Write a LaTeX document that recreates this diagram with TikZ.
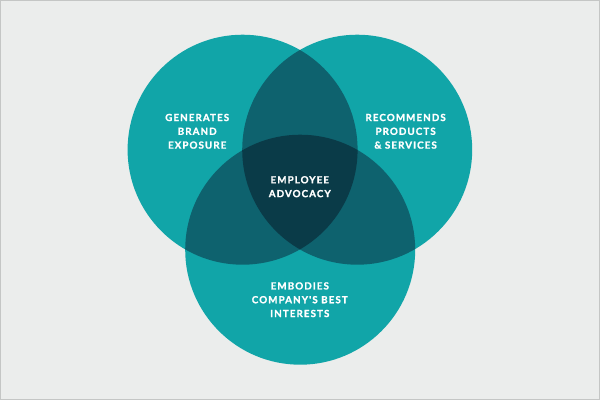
\documentclass[tikz,border=0pt]{standalone}
\usepackage{fontspec}
\newfontfamily\lbl[LetterSpace=11,BoldFeatures={FakeBold=1.3}]{Lato}
\definecolor{bgc}{RGB}{235,237,236}
\definecolor{framec}{RGB}{196,198,197}
\definecolor{tealc}{RGB}{17,165,168}
\definecolor{pairc}{RGB}{14,98,110}
\definecolor{triplec}{RGB}{10,59,72}
\begin{document}
\begin{tikzpicture}[x=1pt,y=-1pt,
  lab/.style={text=white,font=\lbl\bfseries\fontsize{9.8}{13.8}\selectfont,align=center,inner sep=0pt},
  ring/.style={circle,minimum size=230pt,inner sep=0pt,fill=tealc}]
\useasboundingbox (0,0) rectangle (600,400);
\fill[bgc] (0,0) rectangle (600,400);
\draw[framec,line width=1pt] (0.5,0.5) rectangle (599.5,399.5);
% circles
\node[ring] (cl) at (242.6,149.7) {};
\node[ring] (cr) at (357.2,149.7) {};
\node[ring] (cb) at (300.2,249.7) {};
% pairwise overlaps
\begin{scope}
  \clip (242.6,149.7) circle (115);
  \fill[pairc] (357.2,149.7) circle (115);
  \fill[pairc] (300.2,249.7) circle (115);
\end{scope}
\begin{scope}
  \clip (357.2,149.7) circle (115);
  \fill[pairc] (300.2,249.7) circle (115);
\end{scope}
% triple overlap
\begin{scope}
  \clip (242.6,149.7) circle (115);
  \clip (357.2,149.7) circle (115);
  \fill[triplec] (300.2,249.7) circle (115);
\end{scope}
% labels
\node[lab] (tl) at (197.2,131.3) {GENERATES\\BRAND\\EXPOSURE};
\node[lab] (tr) at (405.6,131.3) {RECOMMENDS\\PRODUCTS\\\& SERVICES};
\node[lab] (tc) at (299.8,186.7) {EMPLOYEE\\ADVOCACY};
\node[lab] (tb) at (299.8,299.7) {EMBODIES\\COMPANY'S BEST\\INTERESTS};
\end{tikzpicture}
\end{document}
